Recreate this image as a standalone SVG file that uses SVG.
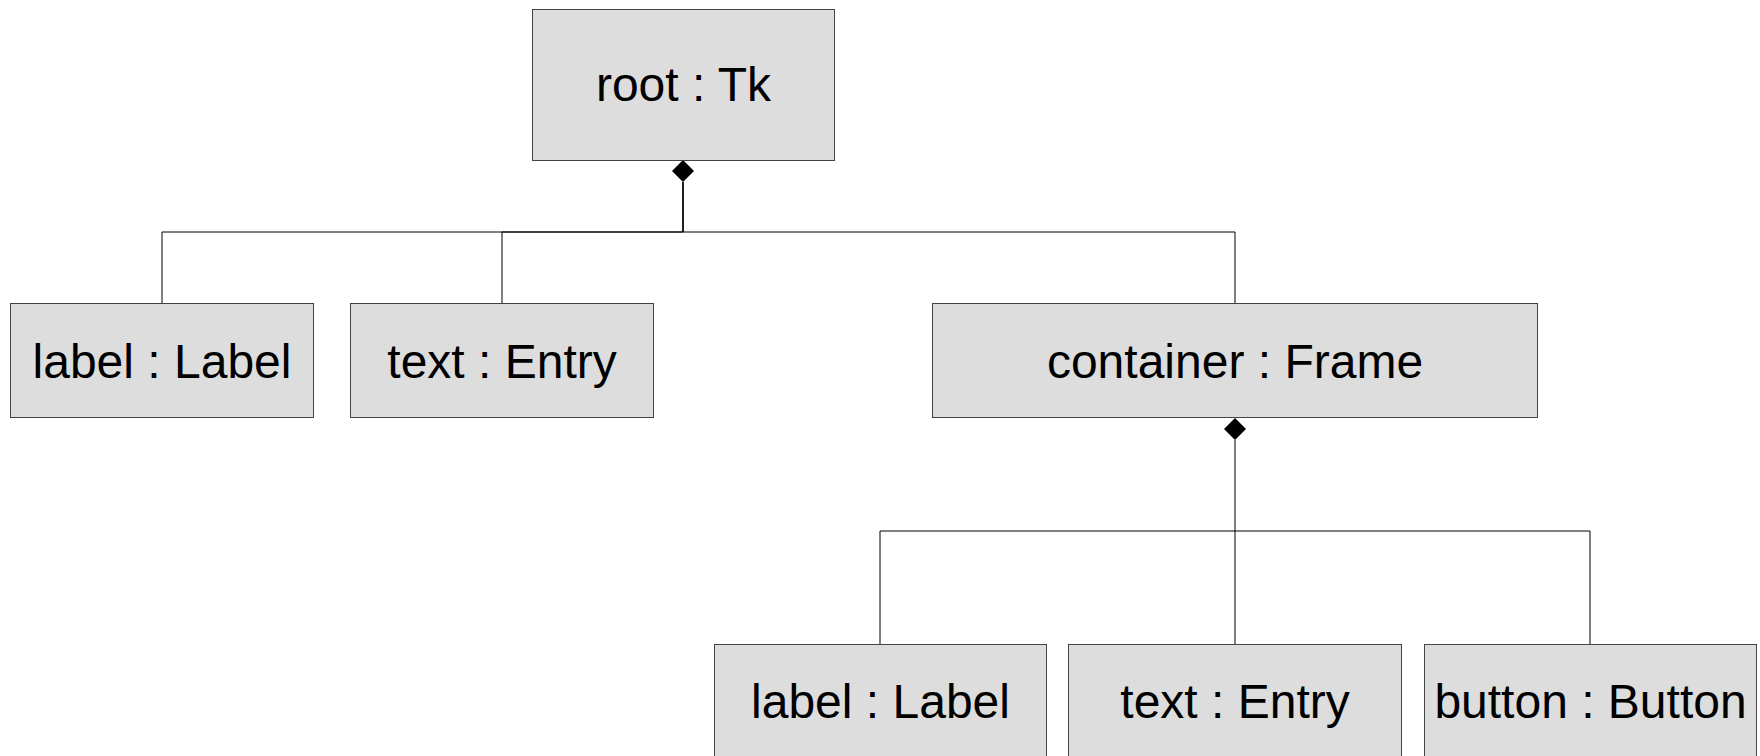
<svg xmlns="http://www.w3.org/2000/svg" width="1760" height="756" viewBox="0 0 1760 756">
<style>
.box{fill:#dcdddc;stroke:#444;stroke-width:1}
.lbl{font-family:"Liberation Sans",Arial,sans-serif;font-size:48px;fill:#000;text-anchor:middle}
.con{fill:none;stroke:#000;stroke-width:1}
.dia{fill:#000;stroke:none}
</style>
<rect width="1760" height="756" fill="#fff"/>
<g id="connectors">
<path class="con" d="M683 182V232H162V303"/>
<path class="con" d="M683 182V232H502V303"/>
<path class="con" d="M683 182V232H1235V303"/>
<polygon class="dia" points="683,160 694,171 683,182 672,171"/>
<path class="con" d="M1235 440V644"/>
<path class="con" d="M1235 531H880V644"/>
<path class="con" d="M1235 531H1590V644"/>
<polygon class="dia" points="1235,418 1246,429 1235,440 1224,429"/>
</g>
<g id="root"><rect class="box" x="532.5" y="9.5" width="302" height="151"/><text class="lbl" x="683.5" y="101">root : Tk</text></g>
<g id="label1"><rect class="box" x="10.5" y="303.5" width="303" height="114"/><text class="lbl" x="162" y="378">label : Label</text></g>
<g id="text1"><rect class="box" x="350.5" y="303.5" width="303" height="114"/><text class="lbl" x="502" y="378">text : Entry</text></g>
<g id="container"><rect class="box" x="932.5" y="303.5" width="605" height="114"/><text class="lbl" x="1235" y="378">container : Frame</text></g>
<g id="label2"><rect class="box" x="714.5" y="644.5" width="332" height="114"/><text class="lbl" x="880.5" y="718">label : Label</text></g>
<g id="text2"><rect class="box" x="1068.5" y="644.5" width="333" height="114"/><text class="lbl" x="1235" y="718">text : Entry</text></g>
<g id="button"><rect class="box" x="1424.5" y="644.5" width="332" height="114"/><text class="lbl" x="1590.5" y="718">button : Button</text></g>
</svg>
